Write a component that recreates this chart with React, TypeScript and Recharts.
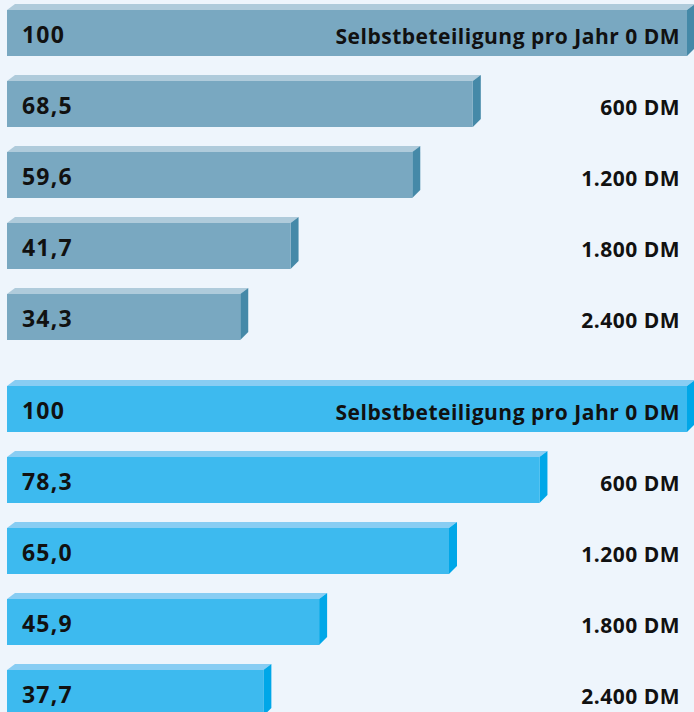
import React from 'react';
import { BarChart, Bar, XAxis, YAxis } from 'recharts';

const W = 694;
const H = 712;
const BAND = 71;
const BAR_H = 46;
const ML = 7;
const MR = 7;
const DX = 8;
const DY = 6;

const categories = ['Selbstbeteiligung pro Jahr 0 DM', '600 DM', '1.200 DM', '1.800 DM', '2.400 DM'];
const groupA = [100, 68.5, 59.6, 41.7, 34.3];
const groupB = [100, 78.3, 65.0, 45.9, 37.7];

const fmt = (v: number) => v === 100 ? '100' : v.toFixed(1).replace('.', ',');

const dataA = categories.map((c, i) => ({ cat: c, value: groupA[i] }));
const dataB = categories.map((c, i) => ({ cat: c, value: groupB[i] }));

const FONT = '"Open Sans", "DejaVu Sans", sans-serif';

const paletteA = { front: '#79A8C1', top: '#AFCBDB', side: '#4589A8' };
const paletteB = { front: '#3DBAEF', top: '#88CDF3', side: '#00A7E8' };

const makeShape = (pal: { front: string; top: string; side: string }) => (props: any) => {
  const { x, y, width, height, payload } = props;
  const cy = y + height / 2;
  const rightX = W - MR - 7;
  return (
    <g>
      <polygon
        points={`${x},${y} ${x + DX},${y - DY} ${x + width + DX},${y - DY} ${x + width},${y}`}
        fill={pal.top}
      />
      <polygon
        points={`${x + width},${y} ${x + width + DX},${y - DY} ${x + width + DX},${y + height - DY - 2} ${x + width},${y + height}`}
        fill={pal.side}
      />
      <rect x={x} y={y} width={width} height={height} fill={pal.front} />
      <text x={x + 15} y={cy + 10} fontFamily={FONT} fontWeight={700} fontSize={23} letterSpacing={1.2} fill="#111">
        {fmt(payload.value)}
      </text>
      <text x={rightX} y={cy + 11} textAnchor="end" fontFamily={FONT} fontWeight={700} fontSize={21} letterSpacing={0.5} fill="#111">
        {payload.cat}
      </text>
    </g>
  );
};

const Group = ({ data, pal, top }: { data: any[]; pal: any; top: number }) => (
  <div style={{ position: 'absolute', left: 0, top, width: W, height: BAND * 5 }}>
    <BarChart
      width={W}
      height={BAND * 5}
      data={data}
      layout="vertical"
      margin={{ top: 0, right: MR, bottom: 0, left: ML }}
      barCategoryGap={0}
    >
      <XAxis type="number" domain={[0, 100]} hide />
      <YAxis type="category" dataKey="cat" hide />
      <Bar dataKey="value" barSize={BAR_H} shape={makeShape(pal)} isAnimationActive={false} />
    </BarChart>
  </div>
);

export default function App() {
  return (
    <div
      style={{
        position: 'absolute',
        left: 0,
        top: 0,
        width: W,
        height: H,
        overflow: 'hidden',
        background: '#EEF5FC',
      }}
    >
      <Group data={dataA} pal={paletteA} top={-3.5} />
      <Group data={dataB} pal={paletteB} top={372.5} />
    </div>
  );
}
